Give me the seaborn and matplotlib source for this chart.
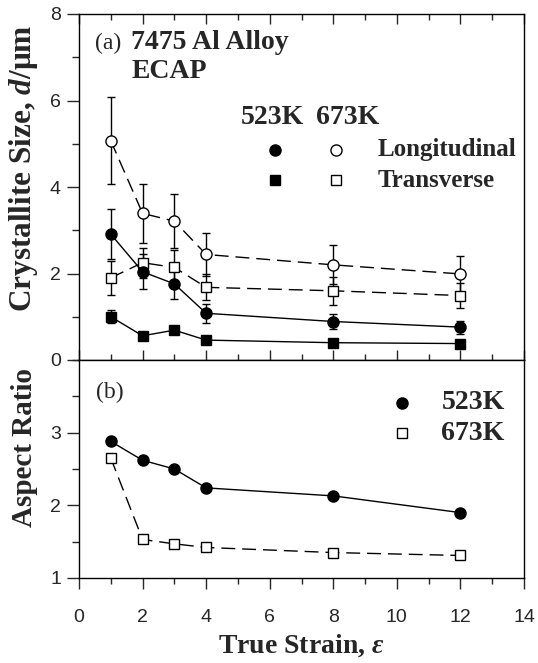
import matplotlib
matplotlib.use("Agg")
import matplotlib.pyplot as plt
import seaborn as sns
import numpy as np
from matplotlib.ticker import MultipleLocator

# ---------------- data ----------------
strain = [1, 2, 3, 4, 8, 12]

long_523 = [2.91, 2.04, 1.76, 1.08, 0.89, 0.76]
long_523_err = [0.58, 0.40, 0.35, 0.22, 0.18, 0.15]
trans_523 = [1.00, 0.56, 0.69, 0.46, 0.40, 0.38]
trans_523_err = [0.15, 0.08, 0.10, 0.05, 0.04, 0.04]
long_673 = [5.07, 3.39, 3.21, 2.44, 2.20, 1.99]
long_673_err = [1.00, 0.68, 0.63, 0.49, 0.45, 0.41]
trans_673 = [1.90, 2.25, 2.14, 1.68, 1.60, 1.49]
trans_673_err = [0.40, 0.35, 0.40, 0.30, 0.32, 0.28]

aspect_523 = [2.88, 2.62, 2.50, 2.24, 2.13, 1.90]
aspect_673 = [2.65, 1.53, 1.47, 1.42, 1.35, 1.31]

x_ticks = [0, 2, 4, 6, 8, 10, 12, 14]
top_yticks = [0, 2, 4, 6, 8]
bot_yticks = [1, 2, 3]

# ---------------- style ----------------
sns.set_style("ticks")
plt.rcParams["font.family"] = ["Liberation Sans", "DejaVu Sans"]
plt.rcParams["mathtext.fontset"] = "custom"
plt.rcParams["mathtext.rm"] = "Liberation Serif:bold"
plt.rcParams["mathtext.it"] = "Liberation Serif:italic:bold"
plt.rcParams["mathtext.bf"] = "Liberation Serif:bold"

SERIF = ["Liberation Serif", "DejaVu Serif"]
DASH = (0, (10, 5))
TICKFS = 14

fig = plt.figure(figsize=(5.38, 6.63), dpi=100)
L, R = 79 / 538, 524 / 538
ax1 = fig.add_axes([L, 1 - 360 / 663, R - L, 346 / 663])
ax2 = fig.add_axes([L, 1 - 578 / 663, R - L, 218 / 663])


def series(ax, y, err, marker, filled, ls, ms):
    if err is not None:
        ax.errorbar(strain, y, yerr=err, fmt="none", ecolor="k",
                    elinewidth=1.0, capsize=3.2, capthick=1.0, zorder=2)
    sns.lineplot(x=strain, y=y, ax=ax, color="k", linewidth=1.0,
                 linestyle=ls, marker=marker, markersize=ms,
                 markerfacecolor="k" if filled else "white",
                 markeredgecolor="k", markeredgewidth=1.0,
                 errorbar=None, legend=False, zorder=3)


# ---- top panel ----
series(ax1, long_673, long_673_err, "o", False, DASH, 8)
series(ax1, trans_673, trans_673_err, "s", False, DASH, 7)
series(ax1, long_523, long_523_err, "o", True, "-", 8)
series(ax1, trans_523, trans_523_err, "s", True, "-", 6.5)

ax1.set_xlim(0, 14)
ax1.set_ylim(0, 8)
ax1.set_yticks(top_yticks)
ax1.yaxis.set_minor_locator(MultipleLocator(1))
ax1.set_xticks(x_ticks)
ax1.xaxis.set_minor_locator(MultipleLocator(1))
ax1.tick_params(axis="x", which="both", direction="in", top=True,
                bottom=True, labelbottom=False, length=7, width=1)
ax1.tick_params(axis="x", which="minor", length=4)
ax1.tick_params(axis="y", which="major", direction="out", length=9,
                width=1, labelsize=TICKFS, pad=4)
ax1.tick_params(axis="y", which="minor", direction="out", length=5, width=1)
ax1.set_xlabel("")
ax1.set_ylabel("Crystallite Size, $d$/μm", family=SERIF,
               fontweight="bold", fontsize=22.5)
ax1.yaxis.set_label_coords(-0.087, 0.555)

ax1.text(0.5, 7.33, "(a)", family=SERIF, fontsize=17, va="center")
ax1.text(1.65, 7.33, "7475 Al Alloy", family=SERIF, fontsize=20,
         fontweight="bold", va="center")
ax1.text(1.65, 6.66, "ECAP", family=SERIF, fontsize=20,
         fontweight="bold", va="center")
ax1.text(5.1, 5.6, "523K", family=SERIF, fontsize=20,
         fontweight="bold", va="center")
ax1.text(7.45, 5.6, "673K", family=SERIF, fontsize=20,
         fontweight="bold", va="center")
ax1.plot([6.16], [4.86], "o", color="k", ms=8, mec="k")
ax1.plot([8.1], [4.86], "o", mfc="white", mec="k", ms=8, mew=1)
ax1.plot([6.16], [4.16], "s", color="k", ms=6.5, mec="k")
ax1.plot([8.1], [4.16], "s", mfc="white", mec="k", ms=7, mew=1)
ax1.text(9.4, 4.86, "Longitudinal", family=SERIF, fontsize=18,
         fontweight="bold", va="center")
ax1.text(9.4, 4.16, "Transverse", family=SERIF, fontsize=18,
         fontweight="bold", va="center")

# ---- bottom panel ----
series(ax2, aspect_673, None, "s", False, DASH, 7)
series(ax2, aspect_523, None, "o", True, "-", 8)

ax2.set_xlim(0, 14)
ax2.set_ylim(1, 4)
ax2.set_yticks(bot_yticks)
ax2.yaxis.set_minor_locator(MultipleLocator(0.5))
ax2.set_xticks(x_ticks)
ax2.xaxis.set_minor_locator(MultipleLocator(1))
ax2.tick_params(axis="x", which="major", direction="out", length=8,
                width=1, labelsize=TICKFS, pad=14)
ax2.tick_params(axis="x", which="minor", direction="out", length=4, width=1)
ax2.tick_params(axis="y", which="major", direction="out", length=9,
                width=1, labelsize=TICKFS, pad=4)
ax2.tick_params(axis="y", which="minor", direction="out", length=5, width=1)
ax2.set_xlabel(r"True Strain, $\varepsilon$", family=SERIF,
               fontweight="bold", fontsize=20, labelpad=5)
ax2.set_ylabel("Aspect Ratio", family=SERIF, fontweight="bold",
               fontsize=21)
ax2.yaxis.set_label_coords(-0.092, 0.60)

ax2.text(0.55, 3.56, "(b)", family=SERIF, fontsize=17, va="center")
ax2.plot([10.16], [3.41], "o", color="k", ms=8, mec="k")
ax2.plot([10.16], [2.99], "s", mfc="white", mec="k", ms=7, mew=1)
ax2.text(11.4, 3.41, "523K", family=SERIF, fontsize=20,
         fontweight="bold", va="center")
ax2.text(11.4, 2.99, "673K", family=SERIF, fontsize=20,
         fontweight="bold", va="center")

for ax in (ax1, ax2):
    for s in ax.spines.values():
        s.set_linewidth(1.0)
        s.set_color("k")

fig.savefig("out.png", dpi=100)
